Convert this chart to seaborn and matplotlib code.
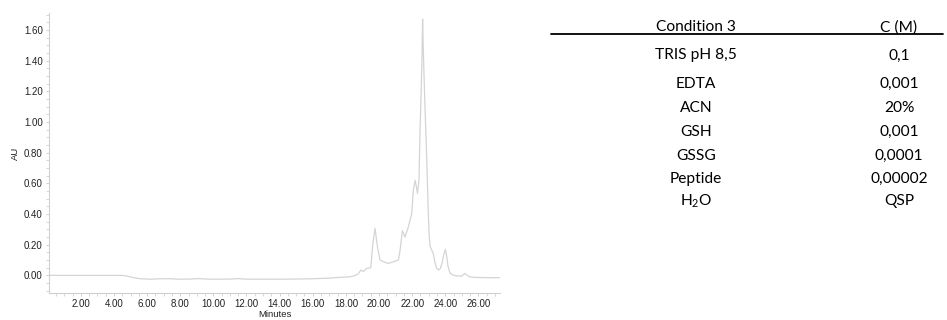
import matplotlib
matplotlib.use("Agg")
import matplotlib.pyplot as plt
from matplotlib.lines import Line2D
from matplotlib.ticker import MultipleLocator, FormatStrFormatter
import seaborn as sns
import numpy as np

# Chromatogram (minutes, AU)
minutes = [0.1, 4.5, 4.8, 5.2, 5.6, 6.2, 6.8, 7.4, 8.0, 8.6, 9.0, 9.4, 10.0, 11.0, 11.5,
           12.0, 13.0, 14.0, 15.0, 16.0, 17.0, 17.6, 18.2, 18.5, 18.75, 18.9, 19.05,
           19.26, 19.5, 19.62, 19.76, 19.9, 20.06, 20.26, 20.57, 20.87, 21.17, 21.27,
           21.41, 21.57, 21.75, 21.97, 22.07, 22.18, 22.25, 22.32, 22.41, 22.47, 22.53,
           22.58, 22.63, 22.66, 22.70, 22.76, 22.82, 22.86, 22.92, 22.96, 23.02, 23.08,
           23.16, 23.28, 23.38, 23.48, 23.6, 23.7, 23.8, 23.9, 24.0, 24.08, 24.16,
           24.28, 24.5, 24.8, 25.0, 25.12, 25.2, 25.3, 25.45, 25.7, 26.5, 27.3]
absorbance = [0.0, 0.0, -0.005, -0.015, -0.022, -0.025, -0.022, -0.022, -0.025, -0.024,
              -0.021, -0.023, -0.025, -0.024, -0.021, -0.025, -0.025, -0.025, -0.024,
              -0.022, -0.018, -0.013, -0.010, -0.003, 0.010, 0.035, 0.025, 0.046, 0.050,
              0.200, 0.307, 0.187, 0.100, 0.089, 0.078, 0.089, 0.100, 0.165, 0.291,
              0.250, 0.310, 0.400, 0.556, 0.620, 0.580, 0.535, 0.620, 0.930, 1.150,
              1.360, 1.672, 1.520, 1.360, 1.140, 0.950, 0.820, 0.600, 0.450, 0.270,
              0.190, 0.170, 0.140, 0.080, 0.045, 0.035, 0.045, 0.080, 0.130, 0.170,
              0.130, 0.060, 0.015, 0.000, -0.004, -0.004, 0.008, 0.013, 0.002, -0.008,
              -0.013, -0.015, -0.015]

# Table
table_header = ["Condition 3", "C (M)"]
components = ["TRIS pH 8,5", "EDTA", "ACN", "GSH", "GSSG", "Peptide", "H$_\\mathregular{2}$O"]
concentrations = ["0,1", "0,001", "20%", "0,001", "0,0001", "0,00002", "QSP"]

sns.set_style("ticks")
plt.rcParams["font.family"] = ["Liberation Sans", "DejaVu Sans"]

W, H = 947, 320
fig = plt.figure(figsize=(W / 100, H / 100), dpi=100)
ax = fig.add_axes([49 / W, 1 - 292.7 / H, (500 - 49) / W, (292.7 - 13.3) / H])

sns.lineplot(x=minutes, y=absorbance, ax=ax, color="#d4d4d4", linewidth=0.9)

ax.set_xlim(0.08, 27.3)
ax.set_ylim(-0.113, 1.709)
ax.xaxis.set_minor_locator(MultipleLocator(0.5))
ax.yaxis.set_major_locator(MultipleLocator(0.2))
ax.yaxis.set_minor_locator(MultipleLocator(0.05))
ax.set_xticks([v for v in np.arange(2, 27, 2)])
ax.xaxis.set_major_formatter(FormatStrFormatter("%.2f"))
ax.yaxis.set_major_formatter(FormatStrFormatter("%.2f"))
for s in ["top", "right"]:
    ax.spines[s].set_visible(False)
for s in ["left", "bottom"]:
    ax.spines[s].set_color("#d0d0d0")
    ax.spines[s].set_linewidth(0.8)
ax.tick_params(which="major", length=2.5, width=0.6, color="#c8c8c8",
               labelsize=7, labelcolor="#222222", pad=2)
ax.tick_params(which="minor", length=2, width=0.5, color="#c8c8c8")
ax.set_xlabel("Minutes", fontsize=6.8, color="#222222", labelpad=1)
ax.set_ylabel("AU", fontsize=6.8, color="#222222", labelpad=3)

# Table on the right
tf = ["Lato", "DejaVu Sans"]
fs = 11.2
cx1, cx2 = 696, 899
dy = 2.2
fig.text(cx1 / W, 1 - (25 + dy) / H, table_header[0], ha="center", va="center",
         fontsize=fs, family=tf, color="#000000")
fig.text(cx2 / W, 1 - (25 + dy) / H, table_header[1], ha="center", va="center",
         fontsize=fs, family=tf, color="#000000")
fig.add_artist(Line2D([551 / W, 943 / W], [1 - 34.3 / H, 1 - 34.3 / H],
                      transform=fig.transFigure, color="black", linewidth=1.3))
row_y = [53.3, 81.7, 105.7, 129.3, 154.0, 176.7, 199.0]
for comp, conc, yy in zip(components, concentrations, row_y):
    fig.text(cx1 / W, 1 - (yy + dy) / H, comp, ha="center", va="center",
             fontsize=fs, family=tf, color="#000000")
    fig.text(cx2 / W, 1 - (yy + dy) / H, conc, ha="center", va="center",
             fontsize=fs, family=tf, color="#000000")

fig.savefig("out.png", dpi=100)
